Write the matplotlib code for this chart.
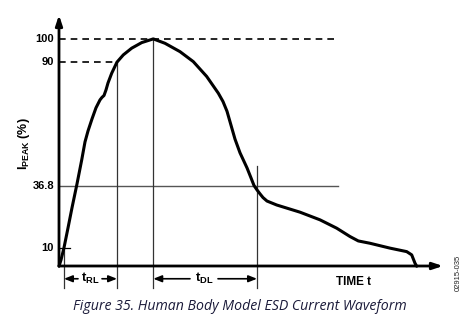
"""Human Body Model ESD current waveform (schematic)."""

import matplotlib
matplotlib.use("Agg")
import matplotlib.pyplot as plt

plt.rcParams.update({
    "font.family": "Liberation Sans",
    "font.weight": "bold",
    "mathtext.fontset": "custom",
    "mathtext.rm": "Liberation Sans",
    "mathtext.bf": "Liberation Sans:bold",
})

# waveform, time in arbitrary units, current in % of peak
t = [0, 2, 5, 9, 13, 18, 22.7, 26, 29, 33, 37, 41, 43, 45, 47, 49, 52.7,
     58, 64.3, 72.7, 82.7, 94.3, 106, 121, 134.3, 147.7, 159.3, 164, 168,
     172, 176, 181, 188, 192, 195, 198, 201, 204, 208, 217.7, 241, 261,
     277.7, 291, 299.3, 311, 331, 347.7, 352.7, 356, 357.7]
i_pct = [2, 4.7, 10, 18.5, 27.2, 37.5, 47.8, 55.6, 60.3, 65.5, 70.3, 73.7,
         74.8, 75.6, 78.0, 81.0, 85.2, 90, 93.1, 96.0, 98.4, 100, 98.1, 94.5,
         90.2, 83.8, 76.6, 73.0, 68.8, 62.8, 56.8, 50.9, 44.4, 40.1, 36.8,
         34.9, 33.2, 31.6, 30.1, 28.4, 25.3, 22.0, 18.4, 14.8, 12.9, 11.9,
         9.8, 8.3, 6.9, 3.3, 2]

levels = [10, 36.8, 90, 100]
level_labels = ["10", "36.8", "90", "100"]
t_10, t_90, t_peak, t_368 = 5, 58, 94.3, 198

W, H = 477, 329
fig = plt.figure(figsize=(W / 100, H / 100), dpi=100)
ax = fig.add_axes([59 / W, (H - 266) / H, (443 - 59) / W, (266 - 15) / H])
ax.set_xlim(0, 384)
ax.set_ylim(2.1, 110.3)
ax.axis("off")

ybot = -7.3   # where the marker lines end, below the time axis
yarr = -3.4   # height of the dimension arrows

# axes with arrowheads
ax.annotate("", xy=(0, 1), xytext=(0, 0), xycoords="axes fraction",
            arrowprops=dict(arrowstyle="-|>,head_length=0.6,head_width=0.2",
                            lw=2, color="black", shrinkA=0, shrinkB=0))
ax.annotate("", xy=(1, 0), xytext=(0, 0), xycoords="axes fraction",
            arrowprops=dict(arrowstyle="-|>,head_length=0.6,head_width=0.2",
                            lw=2, color="black", shrinkA=0, shrinkB=0))

# reference lines
ax.plot([0, 276], [100, 100], ls=(0, (4, 3)), color="black", lw=1.2)
ax.plot([0, t_90], [90, 90], ls=(0, (4, 3)), color="black", lw=1.2)
ax.plot([0, 279], [36.8, 36.8], color="#555555", lw=1.0)
ax.plot([0, 11], [10, 10], color="black", lw=0.9)

for tx, top in [(t_10, 10), (t_90, 90), (t_peak, 100), (t_368, 45.3)]:
    ax.plot([tx, tx], [top, ybot], color="#333333", lw=0.9, clip_on=False)

# waveform
ax.plot(t, i_pct, color="black", lw=2.2, solid_joinstyle="round",
        solid_capstyle="round", clip_on=False)

# level labels
for v, lab in zip(levels, level_labels):
    ax.text(-5, v, lab, ha="right", va="center", fontsize=8, weight="bold")

ax.text(-35, 55, r"$\mathbf{I_{PEAK}}$ (%)", rotation=90, ha="center",
        va="center", fontsize=9, weight="bold")

# dimension arrows
arr = dict(arrowstyle="-|>,head_length=0.5,head_width=0.2", lw=1.2,
           color="black", shrinkA=0, shrinkB=0)
ax.annotate("", xy=(t_10, yarr), xytext=(19, yarr), arrowprops=arr,
            annotation_clip=False)
ax.annotate("", xy=(t_90, yarr), xytext=(43, yarr), arrowprops=arr,
            annotation_clip=False)
ax.text(31, yarr, r"$\mathbf{t_{RL}}$", ha="center", va="center",
        fontsize=9.5)
ax.annotate("", xy=(t_peak, yarr), xytext=(131, yarr), arrowprops=arr,
            annotation_clip=False)
ax.annotate("", xy=(t_368, yarr), xytext=(159, yarr), arrowprops=arr,
            annotation_clip=False)
ax.text(145, yarr, r"$\mathbf{t_{DL}}$", ha="center", va="center",
        fontsize=9.5)

ax.text(295, -4.8, "TIME t", ha="center", va="center", fontsize=8.5,
        weight="bold")

fig.text(458 / W, 1 - 273 / H, "02915-035", rotation=90, ha="center",
         va="center", fontsize=5.5, weight="normal", color="#222222")

fig.text(240 / W, 1 - 307 / H, "Figure 35. Human Body Model ESD Current Waveform",
         ha="center", va="center", fontsize=10.2, style="italic",
         weight="normal", family="Open Sans", color="#1b1b3a")

fig.savefig("out.png", dpi=100)
